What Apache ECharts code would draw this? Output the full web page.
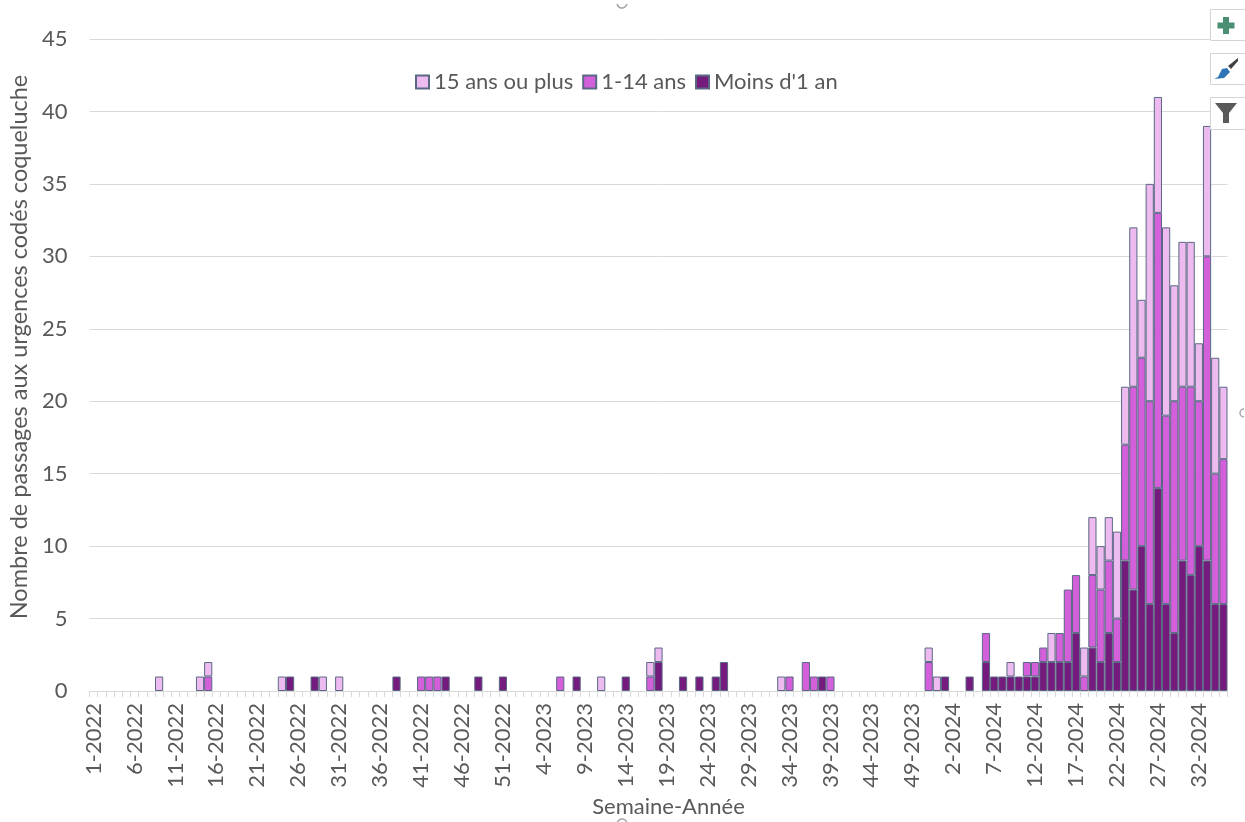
<!DOCTYPE html>
<html>
<head>
<meta charset="utf-8">
<style>
html, body { margin: 0; padding: 0; background: #fff; }
#main { width: 1245px; height: 822px; }
</style>
<script src="https://cdn.jsdelivr.net/npm/echarts@6/dist/echarts.min.js"></script>
</head>
<body>
<div id="main"></div>
<script>
// semaines
var categories = [
	'1-2022','2-2022','3-2022','4-2022','5-2022','6-2022','7-2022','8-2022','9-2022','10-2022',
	'11-2022','12-2022','13-2022','14-2022','15-2022','16-2022','17-2022','18-2022','19-2022','20-2022',
	'21-2022','22-2022','23-2022','24-2022','25-2022','26-2022','27-2022','28-2022','29-2022','30-2022',
	'31-2022','32-2022','33-2022','34-2022','35-2022','36-2022','37-2022','38-2022','39-2022','40-2022',
	'41-2022','42-2022','43-2022','44-2022','45-2022','46-2022','47-2022','48-2022','49-2022','50-2022',
	'51-2022','52-2022','1-2023','2-2023','3-2023','4-2023','5-2023','6-2023','7-2023','8-2023',
	'9-2023','10-2023','11-2023','12-2023','13-2023','14-2023','15-2023','16-2023','17-2023','18-2023',
	'19-2023','20-2023','21-2023','22-2023','23-2023','24-2023','25-2023','26-2023','27-2023','28-2023',
	'29-2023','30-2023','31-2023','32-2023','33-2023','34-2023','35-2023','36-2023','37-2023','38-2023',
	'39-2023','40-2023','41-2023','42-2023','43-2023','44-2023','45-2023','46-2023','47-2023','48-2023',
	'49-2023','50-2023','51-2023','52-2023','1-2024','2-2024','3-2024','4-2024','5-2024','6-2024',
	'7-2024','8-2024','9-2024','10-2024','11-2024','12-2024','13-2024','14-2024','15-2024','16-2024',
	'17-2024','18-2024','19-2024','20-2024','21-2024','22-2024','23-2024','24-2024','25-2024','26-2024',
	'27-2024','28-2024','29-2024','30-2024','31-2024','32-2024','33-2024','34-2024','35-2024'
]
var moinsUnAn = [
	0,0,0,0,0,0,0,0,0,0,
	0,0,0,0,0,0,0,0,0,0,
	0,0,0,0,1,0,0,1,0,0,
	0,0,0,0,0,0,0,1,0,0,
	0,0,0,1,0,0,0,1,0,0,
	1,0,0,0,0,0,0,0,0,1,
	0,0,0,0,0,1,0,0,0,2,
	0,0,1,0,1,0,1,2,0,0,
	0,0,0,0,0,0,0,0,0,1,
	0,0,0,0,0,0,0,0,0,0,
	0,0,0,0,1,0,0,1,0,2,
	1,1,1,1,1,1,2,2,2,2,
	4,0,3,2,4,2,9,7,10,6,
	14,6,4,9,8,10,9,6,6
]
var unQuatorzeAns = [
	0,0,0,0,0,0,0,0,0,0,
	0,0,0,0,1,0,0,0,0,0,
	0,0,0,0,0,0,0,0,0,0,
	0,0,0,0,0,0,0,0,0,0,
	1,1,1,0,0,0,0,0,0,0,
	0,0,0,0,0,0,0,1,0,0,
	0,0,0,0,0,0,0,0,1,0,
	0,0,0,0,0,0,0,0,0,0,
	0,0,0,0,0,1,0,2,1,0,
	1,0,0,0,0,0,0,0,0,0,
	0,0,2,0,0,0,0,0,0,2,
	0,0,0,0,1,1,1,0,2,5,
	4,1,5,5,5,3,8,14,13,14,
	19,13,16,12,13,10,21,9,10
]
var quinzeAnsPlus = [
	0,0,0,0,0,0,0,0,1,0,
	0,0,0,1,1,0,0,0,0,0,
	0,0,0,1,0,0,0,0,1,0,
	1,0,0,0,0,0,0,0,0,0,
	0,0,0,0,0,0,0,0,0,0,
	0,0,0,0,0,0,0,0,0,0,
	0,0,1,0,0,0,0,0,1,1,
	0,0,0,0,0,0,0,0,0,0,
	0,0,0,0,1,0,0,0,0,0,
	0,0,0,0,0,0,0,0,0,0,
	0,0,1,1,0,0,0,0,0,0,
	0,0,1,0,0,0,0,2,0,0,
	0,2,4,3,3,6,4,11,4,15,
	8,13,8,10,10,4,9,8,5
]
var legendNames = ['15 ans ou plus', '1-14 ans', "Moins d'1 an"]

var fontName = 'Lato'
var textColor = '#595959'
var gridColor = '#d9d9d9'

// pas de trait pour les semaines a zero
function noZero(arr) {
	return arr.map(function(v) { return v === 0 ? null : v })
}

function makeSeries(name, data, color) {
	return {
		name: name,
		type: 'bar',
		stack: 'total',
		barWidth: '100%',
		barGap: 0,
		data: noZero(data),
		itemStyle: {
			color: color,
			borderColor: '#5a6884',
			borderWidth: 1
		}
	}
}

// boutons excel a droite + poignees de selection
function toolBox(y, h) {
	return {
		type: 'rect',
		z: 50,
		shape: { x: 1210.5, y: y, width: 40, height: h },
		style: { fill: '#fff', stroke: '#d4d4d4', lineWidth: 1 }
	}
}

function icon(points, color) {
	return {
		type: 'polygon',
		z: 51,
		shape: { points: points },
		style: { fill: color }
	}
}

var myChart = echarts.init(document.getElementById('main'))
myChart.setOption({
	animation: false,
	backgroundColor: '#fff',
	textStyle: { fontFamily: fontName },
	legend: {
		data: legendNames,
		icon: 'rect',
		left: 410,
		top: 66,
		itemWidth: 13,
		itemHeight: 13,
		itemGap: 9,
		textStyle: { fontFamily: fontName, fontSize: 22, color: textColor }
	},
	grid: {
		left: 89.5,
		right: 17.5,
		top: 39,
		bottom: 131,
		outerBoundsMode: 'none'
	},
	xAxis: {
		type: 'category',
		data: categories,
		name: 'Semaine-Année',
		nameLocation: 'middle',
		nameGap: 103,
		nameTextStyle: { fontFamily: fontName, fontSize: 22, color: textColor, padding: [0, 0, 0, 20] },
		axisLine: { lineStyle: { color: gridColor } },
		axisTick: { show: true, interval: 0, length: 6, lineStyle: { color: gridColor } },
		axisLabel: {
			interval: 4,
			rotate: 90,
			margin: 12,
			fontFamily: fontName,
			fontSize: 22,
			color: textColor
		}
	},
	yAxis: {
		type: 'value',
		min: 0,
		max: 45,
		interval: 5,
		name: 'Nombre de passages aux urgences codés coqueluche',
		nameLocation: 'middle',
		nameGap: 55,
		nameTextStyle: { fontFamily: fontName, fontSize: 23.5, color: textColor, padding: [0, 0, 0, 36] },
		axisLine: { show: false },
		axisTick: { show: false },
		axisLabel: { margin: 22, padding: [3, 0, 0, 0], fontFamily: fontName, fontSize: 22, color: textColor },
		splitLine: { lineStyle: { color: gridColor } }
	},
	series: [
		makeSeries("Moins d'1 an", moinsUnAn, '#761b7e'),
		makeSeries('1-14 ans', unQuatorzeAns, '#d35fdb'),
		makeSeries('15 ans ou plus', quinzeAnsPlus, '#edbbef')
	],
	graphic: [
		toolBox(9.5, 31),
		toolBox(53.5, 31),
		toolBox(97.5, 32),
		icon([[1223,17],[1229,17],[1229,22.5],[1234.5,22.5],[1234.5,28.5],[1229,28.5],[1229,34],[1223,34],[1223,28.5],[1217.5,28.5],[1217.5,22.5],[1223,22.5]], '#4a8f71'),
		icon([[1238,58],[1228,66],[1231,69],[1238,61]], '#404040'),
		icon([[1214,79],[1218,77],[1222,69],[1227,68],[1230,72],[1224,78]], '#2e75b6'),
		icon([[1215,103],[1237,103],[1229,113],[1229,123],[1223,123],[1223,113]], '#595959'),
		{
			type: 'arc', z: 51,
			shape: { cx: 622, cy: 3, r: 5, startAngle: 0.2, endAngle: Math.PI - 0.2 },
			style: { stroke: '#a6a6a6', lineWidth: 1.5, fill: 'none' }
		},
		{
			type: 'arc', z: 51,
			shape: { cx: 622, cy: 824, r: 5, startAngle: Math.PI + 0.2, endAngle: Math.PI * 2 - 0.2 },
			style: { stroke: '#a6a6a6', lineWidth: 1.5, fill: 'none' }
		},
		{
			type: 'arc', z: 51,
			shape: { cx: 1244, cy: 413, r: 4, startAngle: Math.PI / 2, endAngle: Math.PI * 1.5 },
			style: { stroke: '#a6a6a6', lineWidth: 1.5, fill: 'none' }
		}
	]
})
</script>
</body>
</html>
